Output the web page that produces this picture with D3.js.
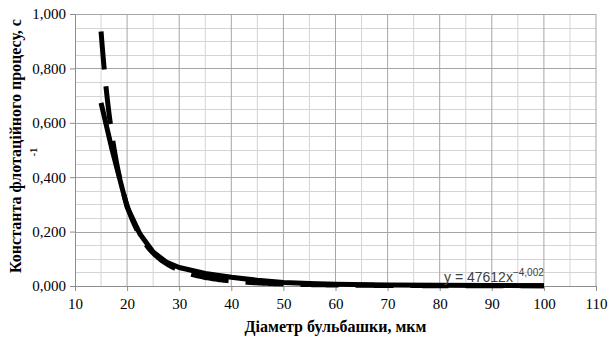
<!DOCTYPE html>
<html>
<head>
<meta charset="utf-8">
<script src="https://cdn.jsdelivr.net/npm/d3@7"></script>
<style>
  body { margin: 0; background: #fff; }
  svg { display: block; }
  .serif { font-family: "Liberation Serif", "Times New Roman", serif; }
</style>
</head>
<body>
<figure id="chart" style="margin:0"></figure>
<script>
// bubble diameter (мкм) and flotation rate constant (1/s)
const diameters = [15, 17, 20, 22.5, 25, 27.5, 30, 35, 40, 45, 50, 55, 60, 70, 80, 90, 100];
const rateConst = [0.673, 0.51, 0.29, 0.19, 0.125, 0.088, 0.068, 0.046, 0.032, 0.021, 0.013, 0.009, 0.006, 0.004, 0.003, 0.002, 0.001];

// power trendline as printed on the chart: y = 47612 x^-4,002
const trendA = 47612;
const trendB = -4.002;

const xTicks = [10, 20, 30, 40, 50, 60, 70, 80, 90, 100, 110];
const yTicks = [0, 0.2, 0.4, 0.6, 0.8, 1.0];

const width = 608, height = 338;
const plot = { left: 75, right: 596, top: 14, bottom: 286 };

const svg = d3.select("#chart")
  .append("svg")
    .attr("width", width)
    .attr("height", height);

const x = d3.scaleLinear().domain([10, 110]).range([plot.left, plot.right]);
const y = d3.scaleLinear().domain([0, 1]).range([plot.bottom, plot.top]);

const fmt = v => d3.format(".3f")(v).replace(".", ",");

// minor grid
svg.append("g")
  .selectAll("line")
  .data(d3.range(15, 110, 10))
  .enter().append("line")
    .attr("x1", d => x(d)).attr("x2", d => x(d))
    .attr("y1", plot.top).attr("y2", plot.bottom)
    .attr("stroke", "#d4d4d4").attr("stroke-width", 1);

svg.append("g")
  .selectAll("line")
  .data(d3.range(0.05, 1, 0.05).filter(v => Math.abs(v * 5 - Math.round(v * 5)) > 1e-6))
  .enter().append("line")
    .attr("x1", plot.left).attr("x2", plot.right)
    .attr("y1", d => Math.round(y(d)) + 0.5).attr("y2", d => Math.round(y(d)) + 0.5)
    .attr("stroke", "#d4d4d4").attr("stroke-width", 1);

// major grid
svg.append("g")
  .selectAll("line")
  .data(xTicks.slice(1))
  .enter().append("line")
    .attr("x1", d => x(d)).attr("x2", d => x(d))
    .attr("y1", plot.top).attr("y2", plot.bottom)
    .attr("stroke", "#a6a6a6").attr("stroke-width", 1);

svg.append("g")
  .selectAll("line")
  .data(yTicks.slice(1))
  .enter().append("line")
    .attr("x1", plot.left).attr("x2", plot.right)
    .attr("y1", d => Math.round(y(d)) + 0.5).attr("y2", d => Math.round(y(d)) + 0.5)
    .attr("stroke", "#a6a6a6").attr("stroke-width", 1);

// axes
const xAxis = svg.append("g")
  .attr("transform", "translate(0," + plot.bottom + ")")
  .call(d3.axisBottom(x).tickValues(xTicks).tickSize(5).tickSizeOuter(0).tickPadding(7).tickFormat(d3.format("d")));

const yAxis = svg.append("g")
  .attr("transform", "translate(" + plot.left + ",0)")
  .call(d3.axisLeft(y).tickValues(yTicks).tickSize(5).tickSizeOuter(0).tickPadding(4).tickFormat(fmt));

[xAxis, yAxis].forEach(g => {
  g.attr("font-family", null).attr("font-size", null);
  g.select(".domain").attr("stroke", "#8c8c8c");
  g.selectAll(".tick line").attr("stroke", "#8c8c8c");
  g.selectAll("text")
    .attr("class", "serif")
    .attr("fill", "#000")
    .style("font-size", "15px");
});

// data line
const line = d3.line()
  .x(d => x(d[0]))
  .y(d => y(d[1]));

svg.append("path")
  .datum(diameters.map((d, i) => [d, rateConst[i]]))
  .attr("d", line)
  .attr("fill", "none")
  .attr("stroke", "#000")
  .attr("stroke-width", 5)
  .attr("stroke-linejoin", "round");

// trendline, long dash
const trendX = d3.range(15, 100.01, 0.25);
svg.append("path")
  .datum(trendX.map(v => [v, trendA * Math.pow(v, trendB)]))
  .attr("d", line)
  .attr("fill", "none")
  .attr("stroke", "#000")
  .attr("stroke-width", 5)
  .attr("stroke-dasharray", "38,17");

// trendline equation
const eq = svg.append("text")
  .attr("x", 444)
  .attr("y", 282)
  .attr("fill", "#404040")
  .style("font-family", "'Liberation Sans', Arial, sans-serif")
  .style("font-size", "14px");
eq.append("tspan").text("y = " + trendA + "x");
eq.append("tspan")
  .attr("dy", -6)
  .style("font-size", "10px")
  .text(fmt(trendB));

// axis titles
svg.append("text")
  .attr("class", "serif")
  .attr("x", (plot.left + plot.right) / 2)
  .attr("y", 332)
  .attr("text-anchor", "middle")
  .style("font-size", "16px")
  .style("font-weight", "bold")
  .text("Діаметр бульбашки, мкм");

svg.append("text")
  .attr("class", "serif")
  .attr("transform", "translate(21,146) rotate(-90)")
  .attr("text-anchor", "middle")
  .style("font-size", "16px")
  .style("font-weight", "bold")
  .text("Константа флотаційного процесу, с");

svg.append("text")
  .attr("class", "serif")
  .attr("transform", "translate(37,152) rotate(-90)")
  .attr("text-anchor", "middle")
  .style("font-size", "10px")
  .style("font-weight", "bold")
  .text("-1");
</script>
</body>
</html>
